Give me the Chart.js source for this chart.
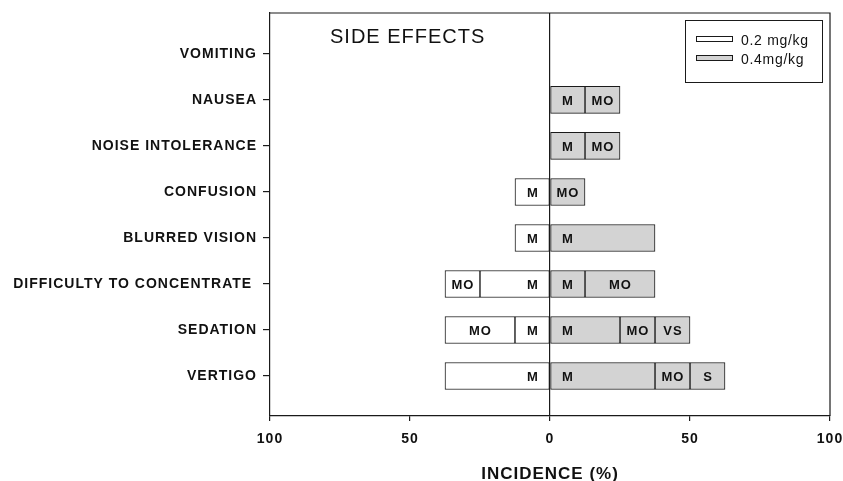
<!DOCTYPE html>
<html>
<head>
<meta charset="utf-8">
<script src="https://cdn.jsdelivr.net/npm/chart.js@4.4.1/dist/chart.umd.min.js"></script>
<style>
  html, body { margin: 0; padding: 0; background: #fff; }
  #wrap { width: 843px; height: 481px; }
</style>
</head>
<body>
<div id="wrap"><canvas id="myChart"></canvas></div>
<script>
var categories = ['VOMITING', 'NAUSEA', 'NOISE INTOLERANCE', 'CONFUSION', 'BLURRED VISION',
                  'DIFFICULTY TO CONCENTRATE ', 'SEDATION', 'VERTIGO'];

// 0.2 mg/kg goes to the left of zero, so values are negative
var low_m  = [null, null, null, -12.5, -12.5, -25, -12.5, -37.5];
var low_mo = [null, null, null, null, null, -12.5, -25, null];
var low_m_labels  = ['', '', '', 'M', 'M', 'M', 'M', 'M'];
var low_mo_labels = ['', '', '', '', '', 'MO', 'MO', ''];

// 0.4 mg/kg
var high_1 = [null, 12.5, 12.5, 12.5, 37.5, 12.5, 25, 37.5];
var high_2 = [null, 12.5, 12.5, null, null, 25, 12.5, 12.5];
var high_3 = [null, null, null, null, null, null, 12.5, 12.5];
var high_1_labels = ['', 'M', 'M', 'MO', 'M', 'M', 'M', 'M'];
var high_2_labels = ['', 'MO', 'MO', '', '', 'MO', 'MO', 'MO'];
var high_3_labels = ['', '', '', '', '', '', 'VS', 'S'];

var x_ticks = [-100, -50, 0, 50, 100];
var legend_names = ['0.2 mg/kg', '0.4mg/kg'];
var chart_title = 'SIDE EFFECTS';
var axis_title = 'INCIDENCE (%)';

var WHITE = '#ffffff';
var GRAY = '#d3d3d3';
var LINE = '#1a1a1a';
var FIRST_CELL = 12.5; // "M" labels sit in the first cell next to zero

function points(values) {
  return values.map(function (v, i) { return { x: v, y: i }; });
}

function segment(values, labels, color, nearZero) {
  return {
    data: points(values),
    segLabels: labels,
    nearZero: nearZero,
    backgroundColor: color,
    borderColor: LINE,
    borderWidth: 1,
    borderSkipped: false,
    barThickness: 27
  };
}

var segmentLabels = {
  id: 'segmentLabels',
  afterDatasetsDraw: function (chart) {
    var ctx = chart.ctx;
    var xs = chart.scales.x;
    ctx.save();
    ctx.font = 'bold 13px "Liberation Sans", Arial, sans-serif';
    ctx.letterSpacing = '1px';
    ctx.fillStyle = '#111';
    ctx.textAlign = 'center';
    ctx.textBaseline = 'middle';
    chart.data.datasets.forEach(function (ds, di) {
      var meta = chart.getDatasetMeta(di);
      meta.data.forEach(function (bar, i) {
        var text = ds.segLabels[i];
        var v = ds.data[i].x;
        if (!text || v === null) return;
        var cx;
        if (ds.nearZero) {
          cx = xs.getPixelForValue(Math.sign(v) * FIRST_CELL / 2);
        } else {
          cx = (bar.x + bar.base) / 2;
        }
        ctx.fillText(text, cx + 0.5, bar.y + 1);
      });
    });
    ctx.restore();
  }
};

var frameAndLegend = {
  id: 'frameAndLegend',
  beforeDraw: function (chart) {
    chart.ctx.letterSpacing = '1px';
  },
  afterDraw: function (chart) {
    var ctx = chart.ctx;
    var a = chart.chartArea;
    ctx.save();
    ctx.strokeStyle = LINE;
    ctx.lineWidth = 1.2;
    ctx.beginPath();
    ctx.moveTo(a.left, a.top);
    ctx.lineTo(a.right, a.top);
    ctx.lineTo(a.right, a.bottom);
    ctx.stroke();

    // title inside the plot
    ctx.fillStyle = '#111';
    ctx.font = '20px "Liberation Sans", Arial, sans-serif';
    ctx.letterSpacing = '1px';
    ctx.textAlign = 'left';
    ctx.textBaseline = 'alphabetic';
    ctx.fillText(chart_title, a.left + 60, a.top + 30);

    // legend box
    var bx = a.right - 145, by = a.top + 7, bw = 137, bh = 62;
    ctx.lineWidth = 1;
    ctx.fillStyle = '#fff';
    ctx.fillRect(bx, by, bw, bh);
    ctx.strokeRect(bx + 0.5, by + 0.5, bw, bh);
    var fills = [WHITE, GRAY];
    ctx.font = '14px "Liberation Sans", Arial, sans-serif';
    ctx.letterSpacing = '0.7px';
    legend_names.forEach(function (name, k) {
      var ry = by + 16 + k * 19;
      ctx.fillStyle = fills[k];
      ctx.fillRect(bx + 11, ry, 36, 5);
      ctx.strokeRect(bx + 11.5, ry + 0.5, 36, 5);
      ctx.fillStyle = '#111';
      ctx.fillText(name, bx + 56, ry + 8.5);
    });
    ctx.restore();
  }
};

var ctx = document.getElementById('myChart');

var myChart = new Chart(ctx, {
  type: 'bar',
  data: {
    datasets: [
      segment(low_m, low_m_labels, WHITE, true),
      segment(low_mo, low_mo_labels, WHITE, false),
      segment(high_1, high_1_labels, GRAY, true),
      segment(high_2, high_2_labels, GRAY, false),
      segment(high_3, high_3_labels, GRAY, false)
    ]
  },
  options: {
    indexAxis: 'y',
    responsive: true,
    maintainAspectRatio: false,
    animation: false,
    layout: { padding: { top: 13, right: 13, left: 0, bottom: 0 } },
    plugins: {
      legend: { display: false },
      tooltip: { enabled: false }
    },
    scales: {
      x: {
        type: 'linear',
        stacked: true,
        min: -100,
        max: 100,
        afterBuildTicks: function (scale) {
          scale.ticks = x_ticks.map(function (v) { return { value: v }; });
        },
        afterFit: function (scale) {
          scale.height = 65;
          scale.paddingLeft = 0;
          scale.paddingRight = 0;
        },
        ticks: {
          color: '#111',
          padding: 10,
          font: { family: '"Liberation Sans", Arial, sans-serif', size: 14, weight: 'bold' },
          callback: function (v) { return Math.abs(v); }
        },
        grid: {
          color: function (c) { return c.tick && c.tick.value === 0 ? LINE : 'rgba(0,0,0,0)'; },
          lineWidth: 1.2,
          tickColor: LINE,
          tickLength: 5
        },
        border: { color: LINE, width: 1.2 },
        title: {
          display: true,
          text: axis_title,
          color: '#111',
          padding: 0,
          font: { family: '"Liberation Sans", Arial, sans-serif', size: 17, weight: 'bold', lineHeight: 0.8 }
        }
      },
      y: {
        type: 'linear',
        stacked: true,
        reverse: true,
        offset: false,
        min: -0.89,
        max: 7.87,
        afterBuildTicks: function (scale) {
          scale.ticks = categories.map(function (c, i) { return { value: i }; });
        },
        afterFit: function (scale) {
          scale.width = 270;
          scale.paddingTop = 0;
          scale.paddingBottom = 0;
        },
        ticks: {
          color: '#111',
          padding: 6,
          font: { family: '"Liberation Sans", Arial, sans-serif', size: 14, weight: 'bold' },
          callback: function (v) { return categories[v]; }
        },
        grid: {
          offset: false,
          drawOnChartArea: false,
          tickColor: LINE,
          tickLength: 7,
          lineWidth: 1.2
        },
        border: { color: LINE, width: 1.2 }
      }
    }
  },
  plugins: [segmentLabels, frameAndLegend]
});
</script>
</body>
</html>
